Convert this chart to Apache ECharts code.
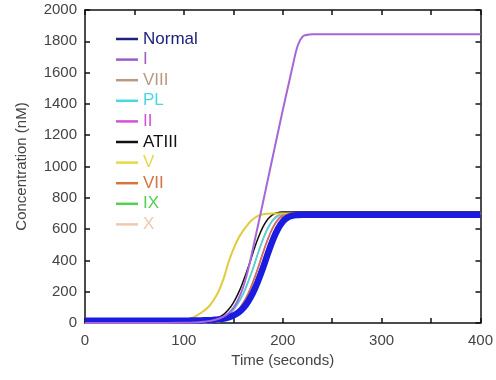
<!DOCTYPE html>
<html>
<head>
<meta charset="utf-8">
<script src="https://cdn.jsdelivr.net/npm/echarts@6/dist/echarts.min.js"></script>
<style>
  html, body { margin: 0; padding: 0; background: #fff; }
  #chart { width: 496px; height: 380px; }
</style>
</head>
<body>
<div id="chart"></div>
<script>
// time points (seconds) shared by every curve
const timeSec = [0, 50, 80, 100, 105, 110, 115, 120, 125, 130, 135, 140, 145, 150, 155, 160, 165, 170, 175, 180,
                 185, 190, 195, 200, 205, 210, 215, 220, 225, 230, 235, 240, 260, 300, 400];

// concentration (nM)
const normal     = [15, 15, 15, 15, 15, 16, 16, 17, 18, 20, 23, 28, 36, 48, 66, 95, 138, 195, 268, 352, 445, 530, 600, 648, 675, 686, 690, 692, 692, 692, 692, 692, 692, 692, 692];
const factorI    = [0, 0, 0, 1, 2, 3, 5, 8, 12, 18, 27, 40, 62, 95, 150, 230, 340, 480, 625, 770, 918, 1065, 1212, 1360, 1500, 1640, 1770, 1830, 1842, 1845, 1845, 1845, 1845, 1845, 1845];
const factorVIII = [0, 0, 0, 1, 1, 2, 3, 5, 8, 14, 22, 34, 53, 83, 128, 187, 263, 351, 448, 536, 609, 659, 687, 699, 703, 705, 705, 705, 705, 705, 705, 705, 705, 705, 705];
const pl         = [0, 0, 0, 1, 1, 2, 3, 5, 8, 13, 22, 34, 53, 83, 127, 186, 262, 348, 445, 533, 605, 655, 682, 694, 698, 700, 700, 700, 700, 700, 700, 700, 700, 700, 700];
const factorII   = [0, 0, 0, 0, 1, 1, 2, 3, 5, 8, 14, 22, 35, 53, 84, 129, 188, 265, 353, 450, 539, 612, 662, 690, 702, 706, 708, 708, 708, 708, 708, 708, 708, 708, 708];
const atIII      = [0, 0, 0, 1, 2, 3, 5, 8, 14, 22, 35, 54, 84, 129, 189, 266, 354, 451, 541, 614, 665, 693, 705, 709, 710, 710, 710, 710, 710, 710, 710, 710, 710, 710, 710];
const factorV    = [2, 3, 8, 18, 26, 38, 55, 77, 104, 145, 200, 280, 385, 470, 540, 590, 632, 664, 685, 694, 698, 700, 700, 700, 700, 700, 700, 700, 700, 700, 700, 700, 700, 700, 700];
const factorVII  = [0, 0, 0, 0, 1, 1, 2, 3, 5, 8, 13, 22, 34, 53, 83, 128, 187, 263, 350, 447, 535, 607, 657, 685, 697, 701, 703, 703, 703, 703, 703, 703, 703, 703, 703];
const factorIX   = [0, 0, 0, 0, 0, 1, 1, 2, 3, 5, 8, 13, 22, 34, 53, 82, 127, 186, 261, 347, 443, 531, 603, 653, 680, 692, 696, 698, 698, 698, 698, 698, 698, 698, 698];
const factorX    = [0, 0, 0, 0, 0, 1, 1, 2, 3, 5, 8, 14, 22, 35, 54, 84, 129, 189, 266, 354, 451, 541, 614, 665, 693, 705, 709, 710, 710, 710, 710, 710, 710, 710, 710];

const legendNames = ['Normal', 'I', 'VIII', 'PL', 'II', 'ATIII', 'V', 'VII', 'IX', 'X'];
const legendColors = ['#20207e', '#9c5cc8', '#b89a80', '#48d8e2', '#d452d8', '#111111', '#e8d84a', '#d47440', '#52d052', '#f0c8b0'];

const font = 'Liberation Sans, Arial, sans-serif';

function pairs(vals) {
    return timeSec.map((t, i) => [t, vals[i]]);
}

function line(name, vals, color, width) {
    return {
        name: name,
        type: 'line',
        data: pairs(vals),
        symbol: 'none',
        smooth: 0.4,
        lineStyle: { color: color, width: width },
        itemStyle: { color: color },
        silent: true,
        animation: false
    };
}

const chart = echarts.init(document.getElementById('chart'), null, { renderer: 'canvas' });

const axisLine = { show: true, onZero: false, lineStyle: { color: '#111', width: 1.5 } };
const tick = { inside: true, length: 5, lineStyle: { color: '#111', width: 1.5 } };
const labelStyle = { fontSize: 15, color: '#444', fontFamily: font };

chart.setOption({
    backgroundColor: '#fff',
    animation: false,
    grid: { left: 85, right: 9, top: 10, bottom: 57 },
    legend: {
        orient: 'vertical',
        left: 111,
        top: 25,
        itemWidth: 22,
        itemHeight: 2.5,
        itemGap: 2.6,
        selectedMode: false,
        textStyle: { fontSize: 17, fontFamily: font, lineHeight: 18 },
        data: legendNames.map((n, i) => ({
            name: n,
            icon: 'rect',
            itemStyle: { color: legendColors[i] },
            textStyle: { color: legendColors[i] }
        }))
    },
    xAxis: [{
        type: 'value',
        min: 0, max: 400, interval: 50,
        name: 'Time (seconds)',
        nameLocation: 'middle',
        nameGap: 30,
        nameTextStyle: labelStyle,
        axisLine: axisLine,
        axisTick: tick,
        axisLabel: Object.assign({ margin: 10, formatter: v => (v % 100 === 0 ? String(v) : '') }, labelStyle),
        splitLine: { show: false }
    }, {
        type: 'value', position: 'top',
        min: 0, max: 400, interval: 50,
        axisLine: axisLine,
        axisTick: tick,
        axisLabel: { show: false },
        splitLine: { show: false }
    }],
    yAxis: [{
        type: 'value',
        min: 0, max: 2000, interval: 200,
        name: 'Concentration (nM)',
        nameLocation: 'middle',
        nameGap: 56,
        nameTextStyle: labelStyle,
        axisLine: axisLine,
        axisTick: tick,
        axisLabel: Object.assign({ margin: 8, formatter: v => String(v) }, labelStyle),
        splitLine: { show: false }
    }, {
        type: 'value', position: 'right',
        min: 0, max: 2000, interval: 200,
        axisLine: axisLine,
        axisTick: tick,
        axisLabel: { show: false },
        splitLine: { show: false }
    }],
    series: [
        line('VIII', factorVIII, '#b89a80', 1.5),
        line('PL', pl, '#48d8e2', 1.5),
        line('II', factorII, '#d452d8', 1.5),
        line('VII', factorVII, '#d47440', 1.5),
        line('IX', factorIX, '#52d052', 1.5),
        line('X', factorX, '#f0c8b0', 1.5),
        line('ATIII', atIII, '#111111', 1.5),
        line('V', factorV, '#e0cc3a', 2),
        line('Normal', normal, '#1c1ce0', 6.5),
        line('I', factorI, '#a666d6', 2)
    ]
});
</script>
</body>
</html>
